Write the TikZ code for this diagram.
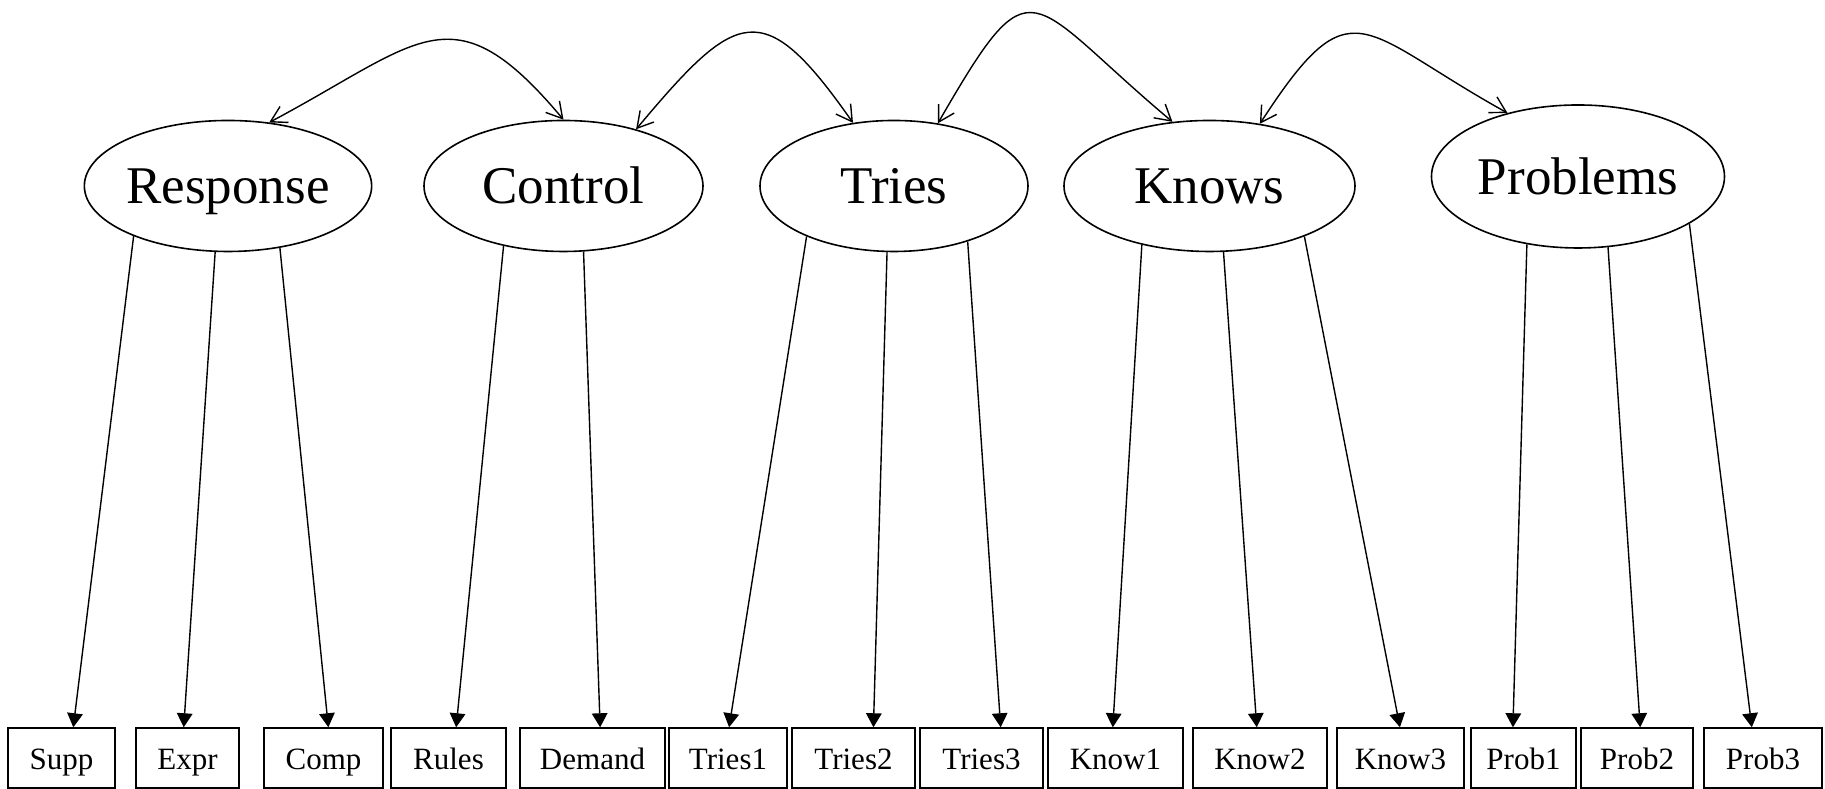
\documentclass[tikz,border=0pt]{standalone}
\usepackage{fontspec}
\setmainfont{Liberation Serif}
\usetikzlibrary{arrows.meta,shapes.geometric}

\begin{document}
\begin{tikzpicture}[x=0.25pt,y=0.25pt]
\useasboundingbox (0,0) rectangle (1825,789);

% Styles for the factors, the observed items and the two kinds of arrows
\tikzstyle{latent}=[draw, ellipse, inner sep=0pt, minimum height=32.75pt, line width=0.4pt,
  text height=10pt, text depth=1pt, font=\fontsize{13.25}{16}\selectfont]
\tikzstyle{manifest}=[draw, rectangle, inner sep=0pt, minimum height=15pt, line width=0.35pt,
  text height=6pt, text depth=0pt, font=\fontsize{7.75}{9}\selectfont]
\tikzstyle{load}=[-{Triangle[length=3.5pt,width=3.9pt]}, line width=0.35pt]
\tikzstyle{cov}=[{Straight Barb[length=3.9pt,width=4.5pt]}-{Straight Barb[length=3.9pt,width=4.5pt]}, line width=0.35pt]

% The five factors
\node[latent, minimum width=70pt] (resp) at (228,603) {Response};
\node[latent, minimum width=69.75pt] (ctrl) at (563.5,603) {Control};
\node[latent, minimum width=67pt] (tries) at (894,603) {Tries};
\node[latent, minimum width=72.75pt] (knows) at (1209.5,603) {Knows};
\node[latent, minimum width=73.25pt, minimum height=35.75pt] (probs) at (1578,612.5) {Problems};

% One observed item: a box on the bottom row and the arrow from its factor
\newcommand{\indicator}[6]{
% #1 = node name, #2 = x of the box centre, #3 = box width
% #4 = label, #5 = start point on the factor, #6 = angle where the arrow meets the box
\node[manifest, minimum width=#3*0.25pt] (#1) at (#2,31) {#4};
\draw[load] (#5) -- (#1.#6);
} % End of definition of `indicator`

\indicator{supp}{61.5}{107}{Supp}{resp.208}{69}
\indicator{expr}{187.5}{103}{Expr}{resp.259.6}{97}
\indicator{comp}{323.5}{119}{Comp}{resp.310}{81}
\indicator{rules}{448.5}{115}{Rules}{ctrl.225}{76}
\indicator{demand}{592.5}{145}{Demand}{ctrl.287.6}{76}
\indicator{triesA}{728}{118}{Tries1}{tries.210.8}{88}
\indicator{triesB}{853.5}{123}{Tries2}{tries.264.8}{57}
\indicator{triesC}{981.5}{123}{Tries3}{tries.323.3}{58}
\indicator{knowA}{1115.5}{135}{Know1}{knows.221.8}{95}
\indicator{knowB}{1260}{134}{Know2}{knows.282.5}{96}
\indicator{knowC}{1400.5}{127}{Know3}{knows.332.7}{91}
\indicator{probA}{1523.5}{105}{Prob1}{probs.233.3}{109}
\indicator{probB}{1637}{112}{Prob2}{probs.293.9}{84}
\indicator{probC}{1763}{118}{Prob3}{probs.337.2}{110}

% Correlations between neighbouring factors
\draw[cov] (resp.57) to[out=28, in=130, looseness=1.5] (ctrl.90);
\draw[cov] (ctrl.38) to[out=50, in=125, looseness=1.85] (tries.123);
\draw[cov] (tries.55) to[out=60, in=140, looseness=2.1] (knows.120);
\draw[cov] (knows.51) to[out=57, in=151, looseness=1.75] (probs.138);

\end{tikzpicture}
\end{document}
